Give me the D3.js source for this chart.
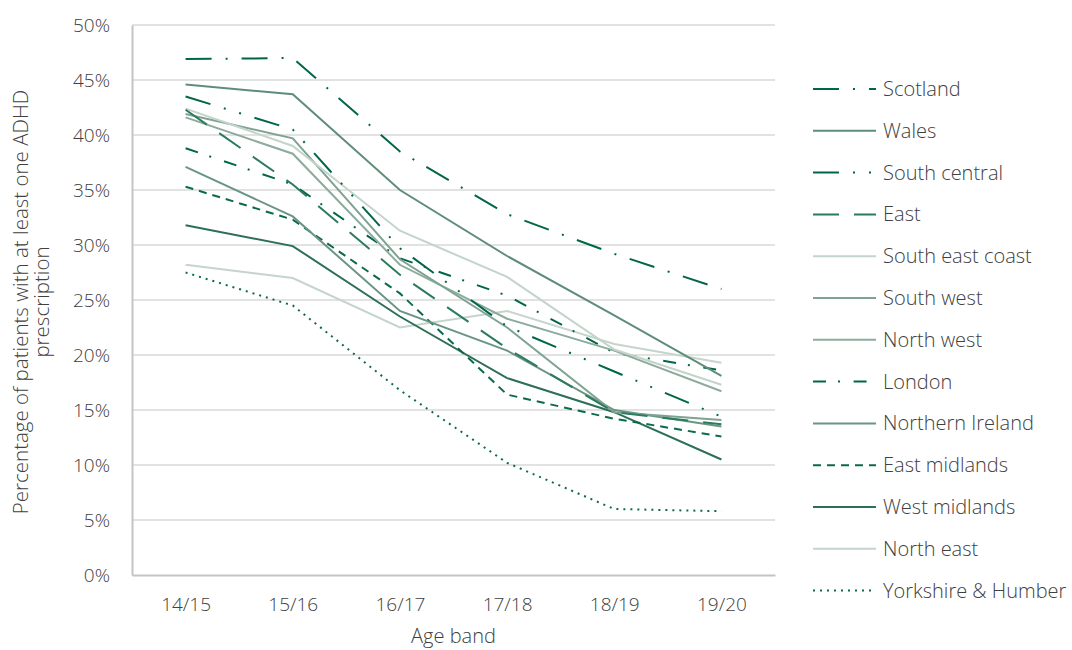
<!DOCTYPE html>
<html>
<head>
<meta charset="utf-8">
<script src="https://cdn.jsdelivr.net/npm/d3@7"></script>
<style>
  body { margin: 0; background: #fff; }
  text { font-family: 'Open Sans', sans-serif; font-weight: 300; fill: #404040; }
</style>
</head>
<body>
<script>
const width = 1072
const height = 650
const margin = { top: 25, right: 297, bottom: 75, left: 132 }

// data (percent of patients)
const ageBands = ['14/15', '15/16', '16/17', '17/18', '18/19', '19/20']
const yTicks = [0, 5, 10, 15, 20, 25, 30, 35, 40, 45, 50]

const regions = ['Scotland', 'Wales', 'South central', 'East', 'South east coast',
  'South west', 'North west', 'London', 'Northern Ireland', 'East midlands',
  'West midlands', 'North east', 'Yorkshire & Humber']

const scotland        = [46.9, 47.0, 38.5, 32.8, 29.2, 26.0]
const wales           = [44.6, 43.7, 35.0, 29.0, 23.6, 18.1]
const southCentral    = [43.5, 40.5, 29.7, 22.6, 18.5, 14.4]
const east            = [42.3, 35.5, 27.3, 20.6, 14.8, 13.7]
const southEastCoast  = [42.4, 39.0, 31.3, 27.1, 20.5, 17.3]
const southWest       = [41.9, 39.7, 28.7, 22.5, 14.8, 14.1]
const northWest       = [41.6, 38.3, 28.2, 23.3, 20.4, 16.7]
const london          = [38.8, 35.5, 28.8, 25.4, 20.2, 18.6]
const northernIreland = [37.1, 32.6, 24.0, 20.4, 15.0, 13.5]
const eastMidlands    = [35.3, 32.3, 25.6, 16.4, 14.2, 12.6]
const westMidlands    = [31.8, 29.9, 23.5, 17.9, 14.8, 10.5]
const northEast       = [28.2, 27.0, 22.5, 24.0, 21.0, 19.3]
const yorkshire       = [27.5, 24.5, 16.8, 10.2, 6.0, 5.8]

const values = [scotland, wales, southCentral, east, southEastCoast, southWest,
  northWest, london, northernIreland, eastMidlands, westMidlands, northEast, yorkshire]

// styles
const colors = ['#00664a', '#5f8d79', '#00664a', '#2b7b5e', '#c3d4ca', '#7fa292',
  '#8dab9d', '#00664a', '#6b9583', '#0b6a4e', '#2c6f57', '#c5d5cc', '#0b6a4e']
const dashes = ['26 14 2 14', null, '26 14 2 14 2 14', '26 15', null, null,
  null, '13 12 2 13.6', null, '8 6', null, null, '2 5']

const series = regions.map((name, i) => ({ name, values: values[i], color: colors[i], dash: dashes[i] }))

const plotW = width - margin.left - margin.right
const plotH = height - margin.top - margin.bottom

const x = d3.scalePoint()
  .domain(ageBands)
  .range([0, plotW])
  .padding(0.5)

const y = d3.scaleLinear()
  .domain([0, 50])
  .range([plotH, 0])

const line = d3.line()
  .x((d, i) => x(ageBands[i]))
  .y((d) => y(d))

let svg = d3.select('body')
  .append('svg')
    .attr('width', width)
    .attr('height', height)

const g = svg.append('g')
  .attr('transform', 'translate(' + [margin.left, margin.top] + ')')

// gridlines

g.append('g')
  .selectAll('line')
  .data(yTicks.filter((t) => t > 0))
  .join('line')
    .attr('x1', 0)
    .attr('x2', plotW)
    .attr('y1', (d) => y(d))
    .attr('y2', (d) => y(d))
    .attr('stroke', '#d9d9d9')
    .attr('stroke-width', 1.5)

// axes

const axisY = g.append('g')
  .call(d3.axisLeft(y).tickValues(yTicks).tickSize(0).tickPadding(22).tickFormat((d) => d + '%'))
axisY.select('.domain').attr('stroke', '#c4c4c4').attr('stroke-width', 2)
axisY.selectAll('text').attr('font-size', 19).attr('fill', '#404040')
  .style('font-family', "'Open Sans', sans-serif").style('font-weight', 300)

const axisX = g.append('g')
  .attr('transform', 'translate(0,' + plotH + ')')
  .call(d3.axisBottom(x).tickSize(0).tickPadding(23))
axisX.select('.domain').attr('stroke', '#c4c4c4').attr('stroke-width', 2)
axisX.selectAll('text').attr('font-size', 19).attr('fill', '#404040')
  .style('font-family', "'Open Sans', sans-serif").style('font-weight', 300)

// lines

g.append('g')
  .selectAll('path')
  .data(series.slice().reverse())
  .join('path')
    .attr('d', (d) => line(d.values))
    .attr('fill', 'none')
    .attr('stroke', (d) => d.color)
    .attr('stroke-width', 2)
    .attr('stroke-dasharray', (d) => d.dash)

// axis titles

svg.append('text')
  .attr('x', margin.left + plotW / 2)
  .attr('y', 643)
  .attr('text-anchor', 'middle')
  .attr('font-size', 20)
  .text('Age band')

const yTitle = svg.append('text')
  .attr('transform', 'translate(28,' + (margin.top + plotH / 2 + 2) + ')rotate(-90)')
  .attr('text-anchor', 'middle')
  .attr('font-size', 20.5)
yTitle.append('tspan').attr('x', 0).attr('dy', 0).text('Percentage of patients with at least one ADHD')
yTitle.append('tspan').attr('x', 0).attr('dy', 21).text('prescription')

// legend

const legend = svg.append('g')
  .attr('transform', 'translate(813,89)')

const item = legend.selectAll('g')
  .data(series)
  .join('g')
    .attr('transform', (d, i) => 'translate(0,' + i * 41.8 + ')')

item.append('line')
  .attr('x1', 0)
  .attr('x2', 63)
  .attr('stroke', (d) => d.color)
  .attr('stroke-width', 2)
  .attr('stroke-dasharray', (d) => d.dash)

item.append('text')
  .attr('x', 70)
  .attr('dy', '0.35em')
  .attr('font-size', 20)
  .text((d) => d.name)
</script>
</body>
</html>
